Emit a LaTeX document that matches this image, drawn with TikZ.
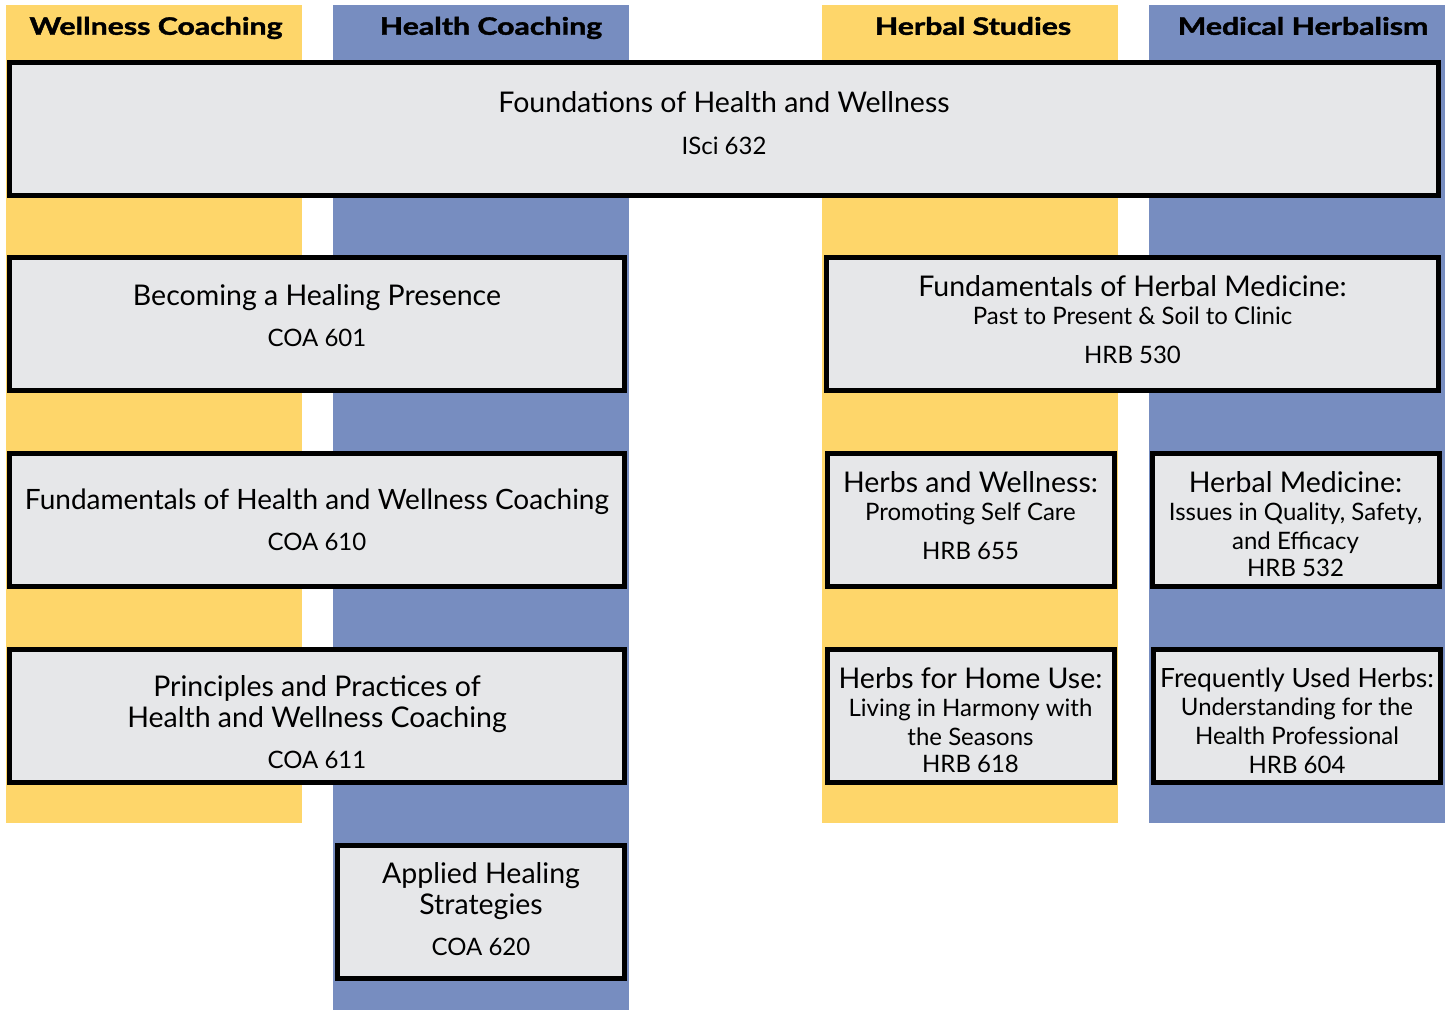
\documentclass[tikz,border=0pt]{standalone}
\usepackage{fontspec}
\setmainfont{Lato}
\newfontfamily\headfont{Lato}[FakeBold=1.5]
\definecolor{myyellow}{RGB}{254,214,106}
\definecolor{myblue}{RGB}{119,141,192}
\definecolor{mygray}{RGB}{230,231,233}
\usetikzlibrary{positioning}
\tikzset{
    band/.style={
           rectangle,
           inner sep=0pt,
           anchor=north west,
           minimum width=296pt,
           },
    head/.style={
           font=\headfont\fontsize{24}{26}\bfseries\selectfont,
           inner sep=0pt,
           transform shape, xscale=1.26,
           },
    course/.style={
           rectangle,
           draw=black, line width=5pt,
           fill=mygray,
           inner sep=0pt,
           align=center,
           minimum height=133pt,
           font=\fontsize{24}{26}\selectfont,
           },
    widebox/.style={course, minimum width=615pt},
    narrowbox/.style={course, minimum width=287pt},
}
\newcommand{\ctitle}[1]{{\fontsize{28.5}{30}\selectfont #1}}
\newcommand{\csub}[1]{{\fontsize{24}{26}\selectfont #1}}
% struts to move a block of lines up (depth) or down (height)
\newcommand{\lift}[1]{\rule[-#1]{0pt}{#1}}
\newcommand{\sink}[1]{\rule{0pt}{#1}}

\begin{document}
\begin{tikzpicture}[x=1pt, y=-1pt]
  \useasboundingbox (0,0) rectangle (1447,1011);
  % program columns
  \node[band, fill=myyellow, minimum height=818pt]  (wc) at (6,5)    {};
  \node[band, fill=myblue,   minimum height=1005pt] (hc) at (333,5)  {};
  \node[band, fill=myyellow, minimum height=818pt]  (hs) at (822,5)  {};
  \node[band, fill=myblue,   minimum height=818pt]  (mh) at (1149,5) {};
  \node[head] (wch) at (156,28) {Wellness Coaching};
  \node[head] (hch) at (491,28) {Health Coaching};
  \node[head] (hsh) at (973,26) {Herbal Studies};
  \node[head] (mhh) at (1303,26) {Medical Herbalism};
  % courses
  \node[course, minimum width=1429pt] (isci) at (724,129)
       {\ctitle{Foundations of Health and Wellness}\\[16pt]ISci 632\lift{12pt}};
  \node[widebox]   (c601) at (317,324) {\ctitle{Becoming a Healing Presence}\\[15pt]COA 601\lift{16pt}};
  \node[widebox]   (c610) at (317,520) {{\fontsize{28}{30}\selectfont Fundamentals of Health and Wellness Coaching}\\[15pt]COA 610};
  \node[widebox]   (c611) at (317,716) {\ctitle{\sink{34pt}Principles and Practices of}\\[5pt]\ctitle{Health and Wellness Coaching}\\[15pt]COA 611};
  \node[narrowbox] (c620) at (481,912) {\ctitle{Applied Healing}\\[5pt]\ctitle{Strategies}\\[15pt]COA 620\lift{6pt}};
  \node[course, minimum width=612pt] (h530) at (1132.5,324)
       {\ctitle{Fundamentals of Herbal Medicine:}\\[2pt]\csub{Past to Present \& Soil to Clinic}\\[13pt]HRB 530\lift{8pt}};
  \node[narrowbox] (h655) at (970.5,520) {\ctitle{Herbs and Wellness:}\\[2pt]\csub{Promoting Self Care}\\[13pt]HRB 655\lift{10pt}};
  \node[narrowbox] (h532) at (1295.5,520) {\ctitle{\sink{29pt}Herbal Medicine:}\\[2pt]\csub{Issues in Quality, Safety,}\\[3pt]\csub{and Efficacy}\\[1pt]HRB 532};
  \node[narrowbox] (h618) at (970.5,716) {\ctitle{\sink{29pt}Herbs for Home Use:}\\[2pt]\csub{Living in Harmony with}\\[3pt]\csub{the Seasons}\\[1pt]HRB 618};
  \node[narrowbox] (h604) at (1297,716) {{\fontsize{26.5}{30}\selectfont\sink{29pt}Frequently Used Herbs:}\\[2pt]\csub{Understanding for the}\\[3pt]\csub{Health Professional}\\[3pt]HRB 604};
\end{tikzpicture}
\end{document}
